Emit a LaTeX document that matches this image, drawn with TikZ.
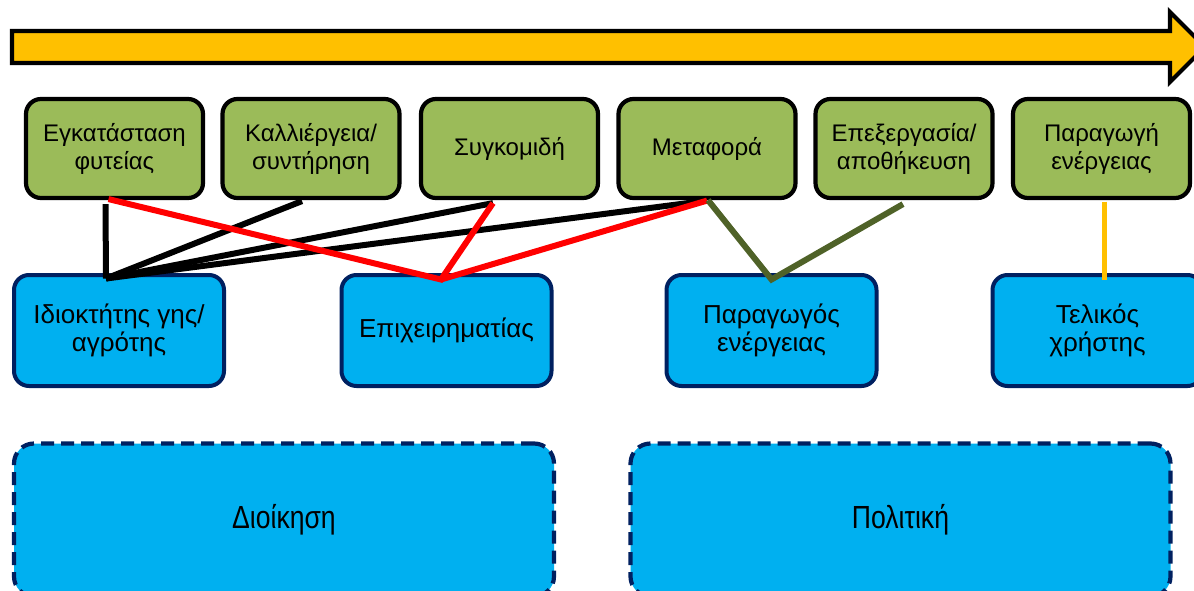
\documentclass[tikz,border=0pt]{standalone}
\usepackage{fontspec}
\setmainfont{Liberation Sans}
\newfontfamily\narrowfont[FakeStretch=0.83]{Liberation Sans}
\usetikzlibrary{calc}
\definecolor{arrowgold}{HTML}{FFC000}
\definecolor{stagegreen}{HTML}{9BBB59}
\definecolor{actorblue}{HTML}{00B0F0}
\definecolor{navyline}{HTML}{002060}
\definecolor{oliveline}{HTML}{4F6228}
\definecolor{linkred}{HTML}{FF0000}
\begin{document}
\begin{tikzpicture}[x=1pt,y=-1pt,
  stage/.style={draw=black, line width=4.2pt, fill=stagegreen, rounded corners=15pt,
    minimum width=177pt, minimum height=99pt, align=center, inner sep=0pt,
    font=\fontsize{24}{28}\selectfont},
  actor/.style={draw=navyline, line width=4pt, fill=actorblue, rounded corners=15pt,
    minimum width=210pt, minimum height=111pt, align=center, inner sep=0pt,
    font=\fontsize{26}{28}\selectfont},
  domainbox/.style={draw=navyline, line width=4.2pt, dash pattern=on 13pt off 7pt,
    fill=actorblue, rounded corners=20pt, minimum width=540pt, minimum height=153pt,
    inner sep=0pt, font=\narrowfont\fontsize{32}{36}\selectfont},
  link/.style={line width=6pt},
  timearrow/.style={draw=black, line width=4.2pt, fill=arrowgold, line join=miter},
]
\useasboundingbox (0,0) rectangle (1194,591);

% time arrow
\path[timearrow] (12,31) -- (1170,31) -- (1170,12) -- (1205,47) -- (1170,82) -- (1170,63) -- (12,63) -- cycle;

% stages
\node[stage] (g1) at (114.5,148.5) {Εγκατάσταση\\φυτείας};
\node[stage] (g2) at (311,148.5) {Καλλιέργεια/\\συντήρηση};
\node[stage] (g3) at (509.5,148.5) {Συγκομιδή};
\node[stage] (g4) at (707,148.5) {Μεταφορά};
\node[stage] (g5) at (904,148.5) {Επεξεργασία/\\αποθήκευση};
\node[stage] (g6) at (1101.5,148.5) {Παραγωγή\\ενέργειας};

% actors
\node[actor] (b1) at (119,330.5) {Ιδιοκτήτης γης/\\αγρότης};
\node[actor] (b2) at (446.5,330.5) {Επιχειρηματίας};
\node[actor] (b3) at (771.5,330.5) {Παραγωγός\\ενέργειας};
\node[actor] (b4) at (1097.5,330.5) {Τελικός\\χρήστης};

% domains
\node[domainbox] (d1) at (284,520) {Διοίκηση};
\node[domainbox] (d2) at (900.5,520) {Πολιτική};

% junction points
\coordinate (jOwner) at ($(b1.north)+(-13,5.5)$);
\coordinate (jBiz) at ($(b2.north)+(-5.5,6.5)$);
\coordinate (jProd) at ($(b3.north)+(0,6.5)$);
\coordinate (jUser) at ($(b4.north)+(6.5,6.5)$);

% black links
\draw[link, black] ($(g1.south)+(-9,4)$) -- (jOwner);
\draw[link, black] (jOwner) -- ($(g2.south)+(-9,1)$);
\draw[link, black] (jOwner) -- ($(g3.south)+(-16.5,3)$);
\draw[link, black] (jOwner) -- ($(g4.south)+(0,0.5)$);

% red links
\draw[link, linkred] ($(g1.south)+(-6,-1)$) -- (jBiz) -- ($(g3.south)+(-16.5,3)$);
\draw[link, linkred] (jBiz) -- ($(g4.south)+(0,0.5)$);

% olive links
\draw[link, oliveline] ($(g4.south)+(1,0)$) -- (jProd) -- ($(g5.south)+(-1,4)$);

% gold link
\draw[line width=5pt, arrowgold] ($(g6.south)+(2.5,1.5)$) -- (jUser);
\end{tikzpicture}
\end{document}
